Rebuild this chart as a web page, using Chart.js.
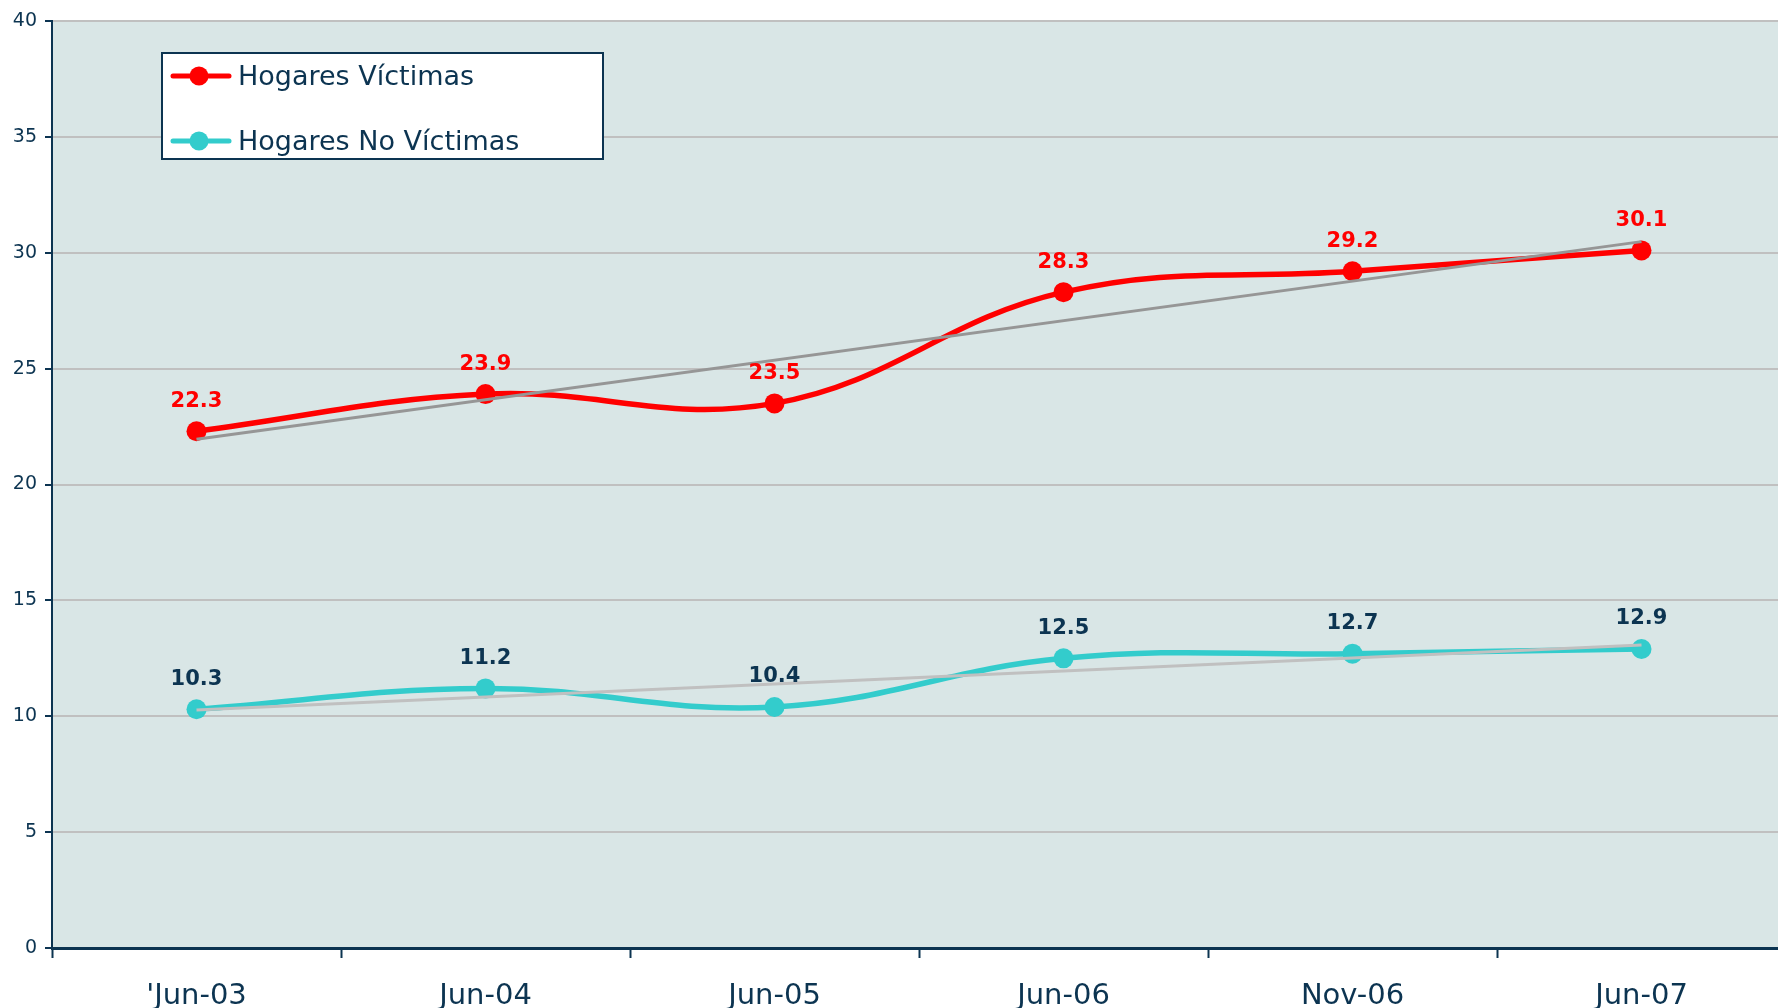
<!DOCTYPE html>
<html>
<head>
<meta charset="utf-8">
<script src="https://cdn.jsdelivr.net/npm/chart.js@4.4.1/dist/chart.umd.min.js"></script>
<style>
html, body { margin: 0; padding: 0; background: #fff; overflow: hidden; }
#wrap { width: 1796px; height: 1008px; }
</style>
</head>
<body>
<div id="wrap"><canvas id="chart" width="1796" height="1008"></canvas></div>
<script>
const periods = ["'Jun-03", "Jun-04", "Jun-05", "Jun-06", "Nov-06", "Jun-07"];
const victimas = [22.3, 23.9, 23.5, 28.3, 29.2, 30.1];
const noVictimas = [10.3, 11.2, 10.4, 12.5, 12.7, 12.9];
// linear trendlines (Excel), end values
const trendVictimas = [21.95, null, null, null, null, 30.48];
const trendNoVictimas = [10.27, null, null, null, null, 13.07];

const navy = "#0c3451";
const red = "#ff0000";
const cyan = "#33cccc";
const font = "DejaVu Sans";

const bgPlugin = {
    id: "plotBg",
    beforeDraw(chart) {
        const a = chart.chartArea;
        const ctx = chart.ctx;
        ctx.save();
        ctx.fillStyle = "#d9e6e6";
        ctx.fillRect(a.left, a.top, a.right - a.left, a.bottom - a.top);
        ctx.restore();
    }
};

const labelPlugin = {
    id: "valueLabels",
    afterDatasetsDraw(chart) {
        const ctx = chart.ctx;
        ctx.save();
        ctx.font = "bold 21px '" + font + "'";
        ctx.textAlign = "center";
        ctx.textBaseline = "middle";
        [0, 1].forEach(i => {
            const ds = chart.data.datasets[i];
            const meta = chart.getDatasetMeta(i);
            ctx.fillStyle = i === 0 ? red : navy;
            meta.data.forEach((p, j) => {
                ctx.fillText(ds.data[j].toFixed(1), p.x, p.y - 30);
            });
        });

        // legend box
        const a = chart.chartArea;
        const x = a.left + 110, y = a.top + 32, w = 441, h = 106;
        ctx.fillStyle = "#fff";
        ctx.fillRect(x, y, w, h);
        ctx.strokeStyle = navy;
        ctx.lineWidth = 2;
        ctx.strokeRect(x, y, w, h);
        [0, 1].forEach(i => {
            const ds = chart.data.datasets[i];
            const ly = y + 23 + i * 65;
            ctx.strokeStyle = ds.borderColor;
            ctx.lineWidth = 5;
            ctx.lineCap = "round";
            ctx.beginPath();
            ctx.moveTo(x + 11, ly);
            ctx.lineTo(x + 67, ly);
            ctx.stroke();
            ctx.fillStyle = ds.borderColor;
            ctx.beginPath();
            ctx.arc(x + 37, ly, 9.5, 0, Math.PI * 2);
            ctx.fill();
            ctx.fillStyle = navy;
            ctx.font = "27px '" + font + "'";
            ctx.textAlign = "left";
            ctx.fillText(ds.label, x + 76, ly + 2);
        });
        ctx.restore();
    }
};

new Chart(document.getElementById("chart"), {
    type: "line",
    data: {
        labels: periods,
        datasets: [{
            label: "Hogares Víctimas",
            data: victimas,
            borderColor: red,
            backgroundColor: red,
            borderWidth: 5.5,
            pointRadius: 10,
            pointBorderWidth: 0,
            tension: 0.4,
            order: 1
        }, {
            label: "Hogares No Víctimas",
            data: noVictimas,
            borderColor: cyan,
            backgroundColor: cyan,
            borderWidth: 5.5,
            pointRadius: 10,
            pointBorderWidth: 0,
            tension: 0.4,
            order: 1
        }, {
            label: "trend 1",
            data: trendVictimas,
            borderColor: "#969696",
            borderWidth: 3,
            pointRadius: 0,
            spanGaps: true,
            order: 0
        }, {
            label: "trend 2",
            data: trendNoVictimas,
            borderColor: "#c0c0c0",
            borderWidth: 3,
            pointRadius: 0,
            spanGaps: true,
            order: 0
        }]
    },
    options: {
        responsive: false,
        animation: false,
        layout: { padding: { top: 21, right: 3, left: 0, bottom: 0 } },
        plugins: {
            legend: { display: false },
            tooltip: { enabled: false }
        },
        scales: {
            x: {
                offset: true,
                afterFit: s => { s.height = 60; },
                border: { color: navy, width: 3 },
                grid: {
                    offset: true,
                    drawOnChartArea: false,
                    tickLength: 10,
                    tickColor: navy,
                    tickWidth: 2
                },
                ticks: {
                    color: navy,
                    font: { family: font, size: 29 },
                    padding: 21,
                    maxRotation: 0,
                    autoSkip: false
                }
            },
            y: {
                min: 0,
                max: 40,
                afterFit: s => { s.width = 52; },
                border: { color: navy, width: 2 },
                grid: {
                    color: "#c0c0c0",
                    lineWidth: 2,
                    tickLength: 7,
                    tickColor: navy,
                    tickWidth: 2
                },
                ticks: {
                    stepSize: 5,
                    color: navy,
                    font: { family: font, size: 19 },
                    padding: 8
                }
            }
        }
    },
    plugins: [bgPlugin, labelPlugin]
});
</script>
</body>
</html>
